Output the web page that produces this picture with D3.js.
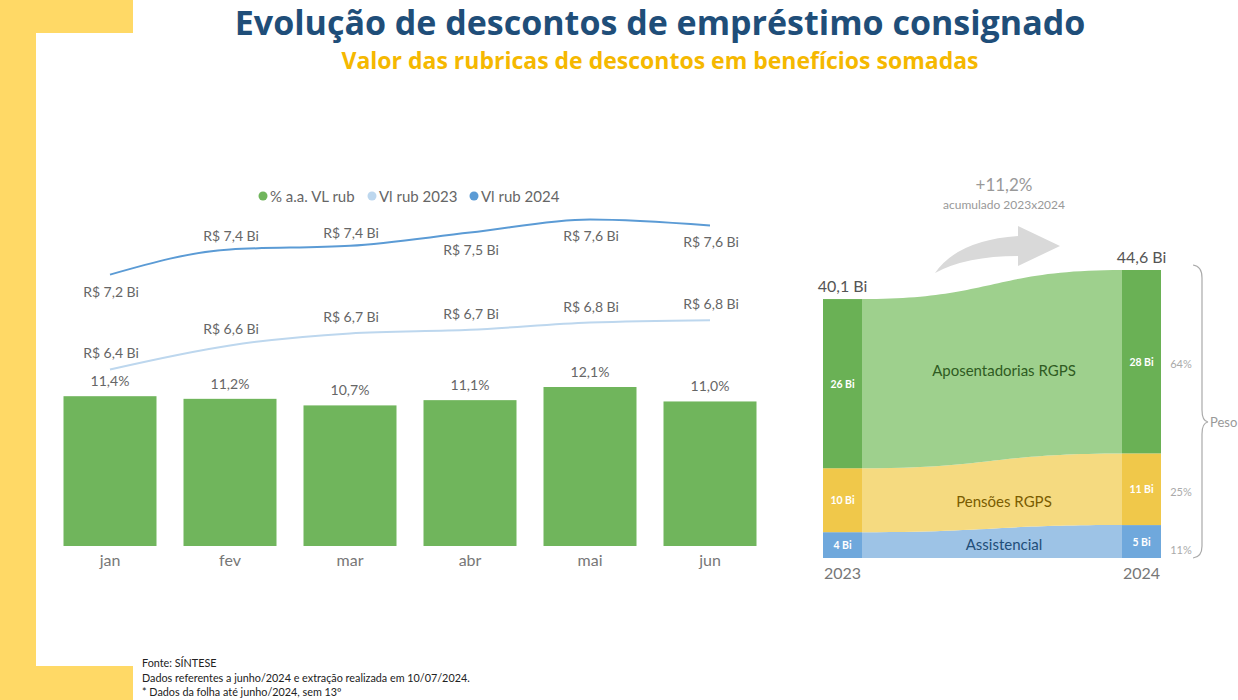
<!DOCTYPE html>
<html>
<head>
<meta charset="utf-8">
<title>Evolução de descontos de empréstimo consignado</title>
<script src="https://d3js.org/d3.v7.min.js"></script>
<style>
  body { margin: 0; background: #fff; }
  svg { display: block; font-family: Lato, "Open Sans", sans-serif; }
</style>
</head>
<body>
<div id="chart"></div>
<script>
// dados
var meses = ["jan", "fev", "mar", "abr", "mai", "jun"];
var taxa = [11.4, 11.2, 10.7, 11.1, 12.1, 11.0];          // % a.a. VL rub
var vl2023 = [6.38, 6.58, 6.68, 6.71, 6.77, 6.79];        // R$ bi
var vl2024 = [7.17, 7.38, 7.41, 7.52, 7.63, 7.58];        // R$ bi

var anos = ["2023", "2024"];
var grupos = ["Assistencial", "Pensões RGPS", "Aposentadorias RGPS"];
var peso2023 = [4.0, 9.9, 26.2];
var peso2024 = [5.1, 11.1, 28.4];
var totais = ["40,1 Bi", "44,6 Bi"];

var W = 1238, H = 700;
var svg = d3.select("#chart").append("svg").attr("width", W).attr("height", H);

// moldura amarela
var amarelo = "#FFD966";
svg.append("rect").attr("x", 0).attr("y", 0).attr("width", 133).attr("height", 33).attr("fill", amarelo);
svg.append("rect").attr("x", 0).attr("y", 0).attr("width", 36).attr("height", H).attr("fill", amarelo);
svg.append("rect").attr("x", 0).attr("y", 666).attr("width", 133).attr("height", 34).attr("fill", amarelo);

// titulos (ajusta tamanho pela largura, com limite)
function fitText(sel, target, maxFs) {
  var w = sel.node().getComputedTextLength();
  var fs = parseFloat(sel.attr("font-size"));
  sel.attr("font-size", Math.min(maxFs, fs * target / w));
}
var t1 = svg.append("text").attr("x", 660).attr("y", 35).attr("text-anchor", "middle")
  .attr("font-family", "'Open Sans', sans-serif")
  .attr("font-size", 32).attr("font-weight", "bold").attr("fill", "#1F4E79")
  .text("Evolução de descontos de empréstimo consignado");
fitText(t1, 866, 34);
var t2 = svg.append("text").attr("x", 660).attr("y", 69).attr("text-anchor", "middle")
  .attr("font-family", "'Open Sans', sans-serif")
  .attr("font-size", 21).attr("font-weight", "bold").attr("fill", "#F5B800")
  .text("Valor das rubricas de descontos em benefícios somadas");
fitText(t2, 655, 23);

// ---------- grafico de barras + linhas ----------
var verde = "#70B55C", azulClaro = "#BDD7EE", azul = "#5B9BD5";
var cinzaTxt = "#666";

var x = d3.scaleBand().domain(meses).range([50, 770]).paddingInner(0.225).paddingOuter(0.1125);
var yBar = d3.scaleLinear().domain([0, 13]).range([546, 546 - 13 * 13.14]);
var yLin = d3.scaleLinear().domain([6.2, 7.8]).range([1135 - 120 * 6.2, 1135 - 120 * 7.8]);

var fmt1 = function (v) { return d3.format(".1f")(v).replace(".", ","); };

svg.append("g").selectAll("rect").data(taxa).join("rect")
  .attr("x", function (d, i) { return x(meses[i]); })
  .attr("y", function (d) { return yBar(d); })
  .attr("width", x.bandwidth())
  .attr("height", function (d) { return yBar(0) - yBar(d); })
  .attr("fill", verde);

svg.append("g").selectAll("text").data(taxa).join("text")
  .attr("x", function (d, i) { return x(meses[i]) + x.bandwidth() / 2; })
  .attr("y", function (d) { return yBar(d) - 10; })
  .attr("text-anchor", "middle").attr("font-size", 14).attr("fill", cinzaTxt)
  .text(function (d) { return fmt1(d) + "%"; });

// eixo x
var ax = svg.append("g").attr("transform", "translate(0,546)")
  .call(d3.axisBottom(x).tickSize(0).tickPadding(9));
ax.select(".domain").remove();
ax.selectAll("text").attr("font-size", 16).attr("fill", "#777").attr("font-family", "Lato, sans-serif");

var cx = function (i) { return x(meses[i]) + x.bandwidth() / 2; };
var linha = d3.line().x(function (d, i) { return cx(i); }).y(function (d) { return yLin(d); })
  .curve(d3.curveMonotoneX);

svg.append("path").datum(vl2023).attr("d", linha).attr("fill", "none")
  .attr("stroke", azulClaro).attr("stroke-width", 2);
svg.append("path").datum(vl2024).attr("d", linha).attr("fill", "none")
  .attr("stroke", azul).attr("stroke-width", 2);

var abaixo2024 = [true, false, false, true, true, true];
svg.append("g").selectAll("text").data(vl2023).join("text")
  .attr("x", function (d, i) { return cx(i) + 1; })
  .attr("y", function (d) { return yLin(d) - 11; })
  .attr("text-anchor", "middle").attr("font-size", 14).attr("fill", cinzaTxt)
  .text(function (d) { return "R$ " + fmt1(d) + " Bi"; });
svg.append("g").selectAll("text").data(vl2024).join("text")
  .attr("x", function (d, i) { return cx(i) + 1; })
  .attr("y", function (d, i) { return abaixo2024[i] ? yLin(d) + 22 : yLin(d) - 8; })
  .attr("text-anchor", "middle").attr("font-size", 14).attr("fill", cinzaTxt)
  .text(function (d) { return "R$ " + fmt1(d) + " Bi"; });

// legenda
var leg = [["% a.a. VL rub", verde, 263], ["Vl rub 2023", azulClaro, 372], ["Vl rub 2024", azul, 474]];
var lg = svg.append("g").selectAll("g").data(leg).join("g")
  .attr("transform", function (d) { return "translate(" + d[2] + ",196)"; });
lg.append("circle").attr("r", 4.5).attr("fill", function (d) { return d[1]; });
lg.append("text").attr("x", 7).attr("y", 5.5).attr("font-size", 15).attr("fill", cinzaTxt)
  .text(function (d) { return d[0]; });

// ---------- sankey 2023 x 2024 ----------
var xs = d3.scalePoint().domain(anos).range([842.5, 1141.5]);
var bw = 39;
var ys = d3.scaleLinear().domain([0, 44.6]).range([558, 270]);
var corBarra = ["#6FA8DC", "#F0C84A", "#6AB155"];
var corFluxo = ["#9DC3E6", "#F5DA80", "#9ED08D"];
var corRotulo = ["#1F4E79", "#7A5C00", "#2F5B22"];

function empilha(vals) {
  var acc = 0;
  return vals.map(function (v) { var s = { y0: acc, y1: acc + v, v: v }; acc += v; return s; });
}
var s23 = empilha(peso2023), s24 = empilha(peso2024);

var xl = xs("2023") + bw / 2, xr = xs("2024") - bw / 2, xm = (xl + xr) / 2;
grupos.forEach(function (g, i) {
  var a = s23[i], b = s24[i];
  var p = d3.path();
  p.moveTo(xl, ys(a.y1));
  p.bezierCurveTo(xm, ys(a.y1), xm, ys(b.y1), xr, ys(b.y1));
  p.lineTo(xr, ys(b.y0));
  p.bezierCurveTo(xm, ys(b.y0), xm, ys(a.y0), xl, ys(a.y0));
  p.closePath();
  svg.append("path").attr("d", p.toString()).attr("fill", corFluxo[i]);
});

[s23, s24].forEach(function (st, k) {
  var xx = xs(anos[k]);
  st.forEach(function (s, i) {
    svg.append("rect").attr("x", xx - bw / 2).attr("y", ys(s.y1)).attr("width", bw)
      .attr("height", ys(s.y0) - ys(s.y1)).attr("fill", corBarra[i]);
    svg.append("text").attr("x", xx).attr("y", (ys(s.y0) + ys(s.y1)) / 2 + 4)
      .attr("text-anchor", "middle").attr("font-size", 10.5).attr("font-weight", "bold")
      .attr("fill", "#fff").text(Math.round(s.v) + " Bi");
  });
  svg.append("text").attr("x", xx).attr("y", ys(st[2].y1) - 7).attr("text-anchor", "middle")
    .attr("font-size", 16).attr("fill", "#555").text(totais[k]);
  svg.append("text").attr("x", xx).attr("y", 579).attr("text-anchor", "middle")
    .attr("font-size", 16).attr("fill", "#777").text(anos[k]);
});

// rotulos dos fluxos
var rotY = [545, 502, 371];
grupos.forEach(function (g, i) {
  svg.append("text").attr("x", 1004).attr("y", rotY[i] + 5).attr("text-anchor", "middle")
    .attr("font-size", 15).attr("fill", corRotulo[i]).text(g);
});

// pesos (participacao em 2024)
var total24 = d3.sum(peso2024);
var pesoY = [550, 492, 364];
peso2024.forEach(function (v, i) {
  svg.append("text").attr("x", 1181).attr("y", pesoY[i] + 4).attr("text-anchor", "middle")
    .attr("font-size", 11).attr("fill", "#aaa").text(Math.round(v / total24 * 100) + "%");
});
svg.append("path")
  .attr("d", "M1193,265 Q1202,266 1202,278 L1202,410 Q1202,421 1208,422 Q1202,423 1202,434 L1202,546 Q1202,557 1193,558")
  .attr("fill", "none").attr("stroke", "#aaa").attr("stroke-width", 1.2);
svg.append("text").attr("x", 1210).attr("y", 427).attr("font-size", 13).attr("fill", "#999").text("Peso");

// seta e variacao
svg.append("path")
  .attr("d", "M935,273 Q958,240 1018,236 L1018,226 L1060,246 L1018,266 L1018,256 Q966,256 935,273 Z")
  .attr("fill", "#D9D9D9");
svg.append("text").attr("x", 1004).attr("y", 191).attr("text-anchor", "middle")
  .attr("font-size", 17).attr("fill", "#999").text("+11,2%");
svg.append("text").attr("x", 1004).attr("y", 209).attr("text-anchor", "middle")
  .attr("font-size", 12).attr("fill", "#999").text("acumulado 2023x2024");

// rodape
var notas = ["Fonte: SÍNTESE", "Dados referentes a junho/2024 e extração realizada em 10/07/2024.", "* Dados da folha até junho/2024, sem 13º"];
svg.append("g").selectAll("text").data(notas).join("text")
  .attr("x", 142).attr("y", function (d, i) { return 667 + i * 14.5; })
  .attr("font-size", 10.8).attr("fill", "#222").text(function (d) { return d; });
</script>
</body>
</html>
